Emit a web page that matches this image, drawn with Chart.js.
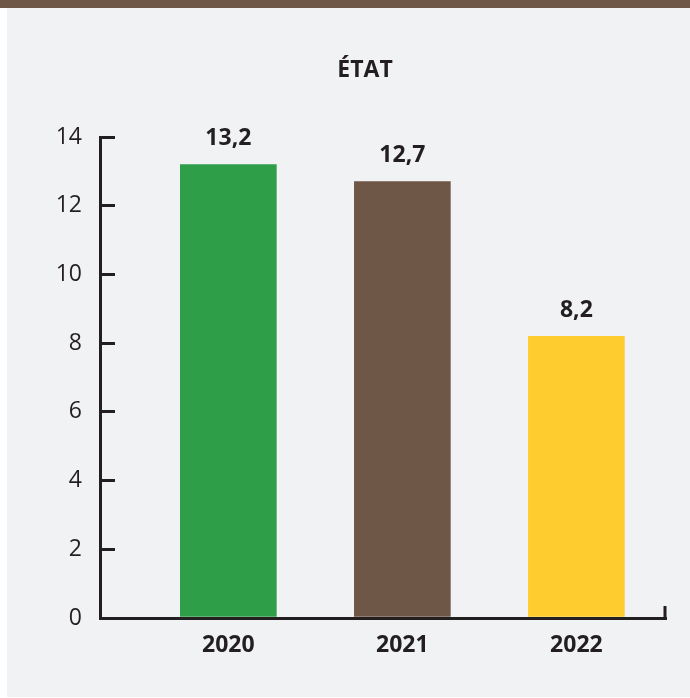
<!DOCTYPE html>
<html>
<head>
<meta charset="utf-8">
<script src="https://cdn.jsdelivr.net/npm/chart.js@4/dist/chart.umd.min.js"></script>
<style>
	body {
		margin: 0;
		width: 690px;
		height: 698px;
		position: relative;
		overflow: hidden;
		background: #ffffff;
	}
	.band {
		position: absolute;
		left: 0;
		top: 0;
		width: 690px;
		height: 8px;
		background: #6f5748;
	}
	.panel {
		position: absolute;
		left: 7px;
		top: 8px;
		width: 683px;
		height: 689px;
		background: #f1f2f4;
	}
	#chart {
		position: absolute;
		left: 40px;
		top: 8px;
	}
</style>
</head>
<body>
<div class="band"></div>
<div class="panel"></div>
<canvas id="chart" width="650" height="688"></canvas>
<script>
const years = ["2020", "2021", "2022"];
const values = [13.2, 12.7, 8.2];
const colors = ["#2e9e48", "#6f5748", "#fecc2e"];

const ink = "#231f20";
Chart.defaults.font.family = "'Open Sans', sans-serif";

// value written above each bar, french decimal comma
const valueLabels = {
	id: "valueLabels",
	afterDatasetsDraw(chart) {
		const ctx = chart.ctx;
		const meta = chart.getDatasetMeta(0);
		ctx.save();
		ctx.font = "bold 23px 'Open Sans'";
		ctx.fillStyle = ink;
		ctx.textAlign = "center";
		ctx.textBaseline = "middle";
		meta.data.forEach((bar, i) => {
			ctx.fillText(String(values[i]).replace(".", ","), bar.x, bar.y - 26);
		});
		ctx.restore();
	},
};

// small upright tick closing the x axis on the right
const axisEnd = {
	id: "axisEnd",
	afterDraw(chart) {
		const { ctx, chartArea } = chart;
		ctx.save();
		ctx.strokeStyle = ink;
		ctx.lineWidth = 3;
		ctx.beginPath();
		ctx.moveTo(chartArea.right - 1, chartArea.bottom + 1);
		ctx.lineTo(chartArea.right - 1, chartArea.bottom - 12);
		ctx.stroke();
		ctx.restore();
	},
};

const data = {
	datasets: [
		{
			data: values.map((v, i) => ({ x: i, y: v })),
			backgroundColor: colors,
			borderWidth: 0,
			barThickness: 96,
		},
	],
};

const options = {
	responsive: false,
	animation: false,
	plugins: {
		legend: { display: false },
		tooltip: { enabled: false },
		title: {
			display: true,
			text: "ÉTAT",
			color: ink,
			font: { size: 23, weight: "bold" },
			padding: { top: 49, bottom: 52.4 },
		},
	},
	scales: {
		x: {
			type: "linear",
			position: "bottom",
			offset: false,
			min: -0.7375,
			max: 2.515,
			grid: { display: false, drawTicks: false },
			border: { color: ink, width: 3 },
			ticks: {
				stepSize: 1,
				includeBounds: false,
				padding: 14,
				color: ink,
				font: { size: 23, weight: "bold" },
				callback: (v) => years[v] ?? "",
			},
			afterFit: (scale) => {
				scale.height = 78;
			},
		},
		y: {
			min: 0,
			max: 14,
			grid: {
				drawOnChartArea: false,
				tickLength: -15,
				color: ink,
				lineWidth: 3,
			},
			border: { color: ink, width: 3 },
			ticks: {
				stepSize: 2,
				padding: 33,
				color: ink,
				font: { size: 23 },
			},
			afterFit: (scale) => {
				scale.width = 60;
			},
		},
		// empty gutter on the right of the plot
		gutter: {
			position: "right",
			grid: { display: false },
			border: { display: false },
			ticks: { display: false },
			afterFit: (scale) => {
				scale.width = 24;
			},
		},
	},
};

new Chart(document.querySelector("#chart"), {
	type: "bar",
	data,
	options,
	plugins: [valueLabels, axisEnd],
});
</script>
</body>
</html>
